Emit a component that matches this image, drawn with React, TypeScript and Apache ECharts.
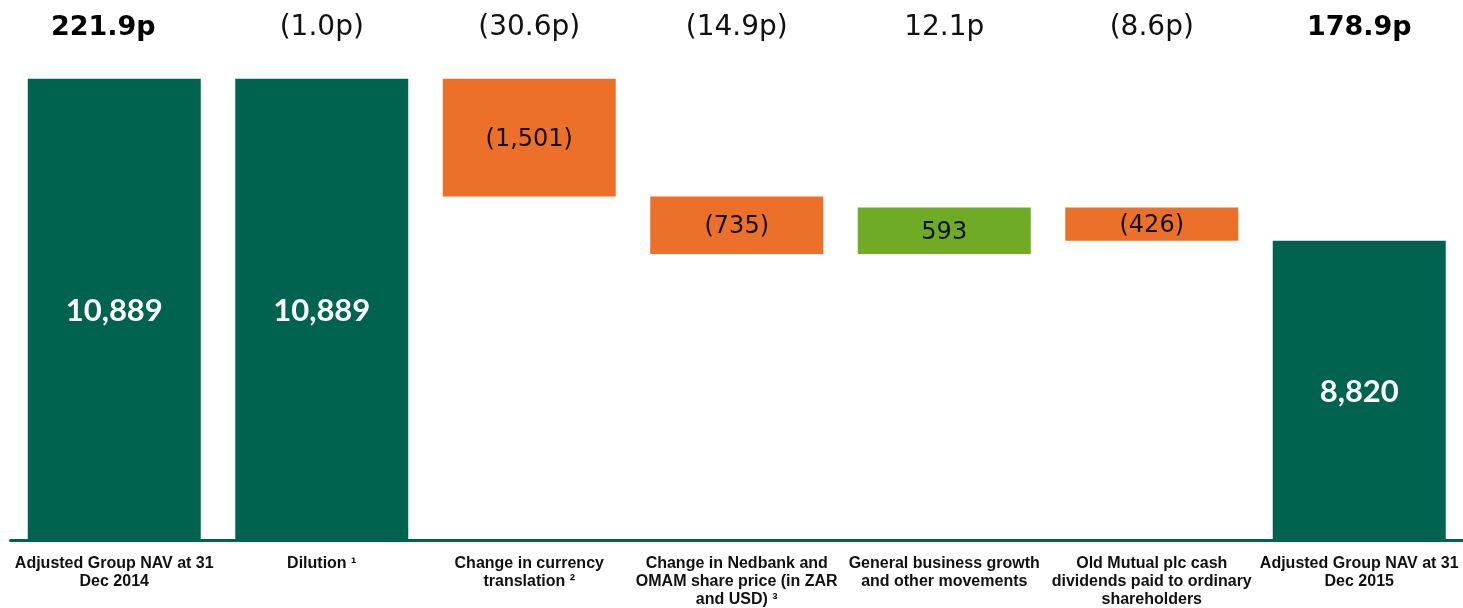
import React, { useEffect, useRef } from "react";
import * as echarts from "echarts";

const categories = [
  "Adjusted Group NAV at 31\nDec 2014",
  "Dilution ¹",
  "Change in currency\ntranslation ²",
  "Change in Nedbank and\nOMAM share price (in ZAR\nand USD) ³",
  "General business growth\nand other movements",
  "Old Mutual plc cash\ndividends paid to ordinary\nshareholders",
  "Adjusted Group NAV at 31\nDec 2015",
];
const pencePerShare = ["221.9p", "(1.0p)", "(30.6p)", "(14.9p)", "12.1p", "(8.6p)", "178.9p"];
const penceBold = [true, false, false, false, false, false, true];
const navValues = [10889, 10889, -1501, -735, 593, -426, 8820];
const barKinds = ["total", "total", "delta", "delta", "delta", "delta", "total"];

const DARK = "#00634F";
const ORANGE = "#EC7029";
const LIGHT = "#6FAB24";

function fmt(n: number) {
  return Math.abs(n).toLocaleString("en-US");
}

export default function App() {
  const ref = useRef<HTMLDivElement>(null);
  useEffect(() => {
    if (!ref.current) return;
    const chart = echarts.init(ref.current, null, { renderer: "svg" });
    let running = 0;
    const bases: number[] = [];
    const heights: any[] = [];
    navValues.forEach((v, i) => {
      const kind = barKinds[i];
      if (kind === "total") {
        bases.push(0);
        running = v;
        heights.push({
          value: v,
          itemStyle: { color: DARK },
          label: {
            formatter: fmt(v),
            color: "#fff",
            fontWeight: "bold",
            fontSize: 31,
            fontFamily: "Lato, 'Liberation Sans', sans-serif",
          },
        });
      } else {
        const base = v < 0 ? running + v : running;
        bases.push(base);
        running += v;
        heights.push({
          value: Math.abs(v),
          itemStyle: { color: v < 0 ? ORANGE : LIGHT },
          label: {
            formatter: v < 0 ? `(${fmt(v)})` : fmt(v),
            color: "#111",
            fontSize: 24,
            fontFamily: "'DejaVu Sans', sans-serif",
          },
        });
      }
    });

    chart.setOption({
      animation: false,
      grid: { left: 10.5, right: 0, top: 31, bottom: 68, containLabel: false },
      xAxis: [
        {
          type: "category",
          data: categories,
          position: "bottom",
          axisLine: { show: true, lineStyle: { color: DARK, width: 3 } },
          axisTick: { show: false },
          axisLabel: {
            interval: 0,
            margin: 13,
            color: "#111",
            fontSize: 16,
            fontWeight: "bold",
            lineHeight: 18,
            fontFamily: "'Liberation Sans', Arial, sans-serif",
          },
          z: 10,
        },
        {
          type: "category",
          data: pencePerShare,
          position: "top",
          axisLine: { show: false },
          axisTick: { show: false },
          axisLabel: {
            interval: 0,
            margin: 6,
            verticalAlign: "middle",
            formatter: (val: string, idx: number) =>
              penceBold[idx] ? `{b${idx === 0 ? "0" : ""}|${val}}` : `{n|${val}}`,
            rich: {
              b: { fontSize: 27, fontWeight: "bold", color: "#000", fontFamily: "'DejaVu Sans', sans-serif" },
              b0: {
                fontSize: 27,
                fontWeight: "bold",
                color: "#000",
                fontFamily: "'DejaVu Sans', sans-serif",
                padding: [0, 22, 0, 0],
              },
              n: { fontSize: 28, color: "#111", fontFamily: "'DejaVu Sans', sans-serif" },
            },
          },
        },
      ],
      yAxis: { type: "value", min: 5000, max: 11500, show: false, splitLine: { show: false } },
      series: [
        {
          type: "bar",
          stack: "wf",
          xAxisIndex: 0,
          data: bases,
          barWidth: 173,
          itemStyle: { color: "transparent" },
          silent: true,
        },
        {
          type: "bar",
          stack: "wf",
          xAxisIndex: 0,
          data: heights,
          barWidth: 173,
          label: { show: true, position: "inside" },
        },
      ],
    });
    return () => chart.dispose();
  }, []);
  return <div ref={ref} style={{ position: "fixed", left: 0, top: 0, width: 1463, height: 608 }} />;
}
